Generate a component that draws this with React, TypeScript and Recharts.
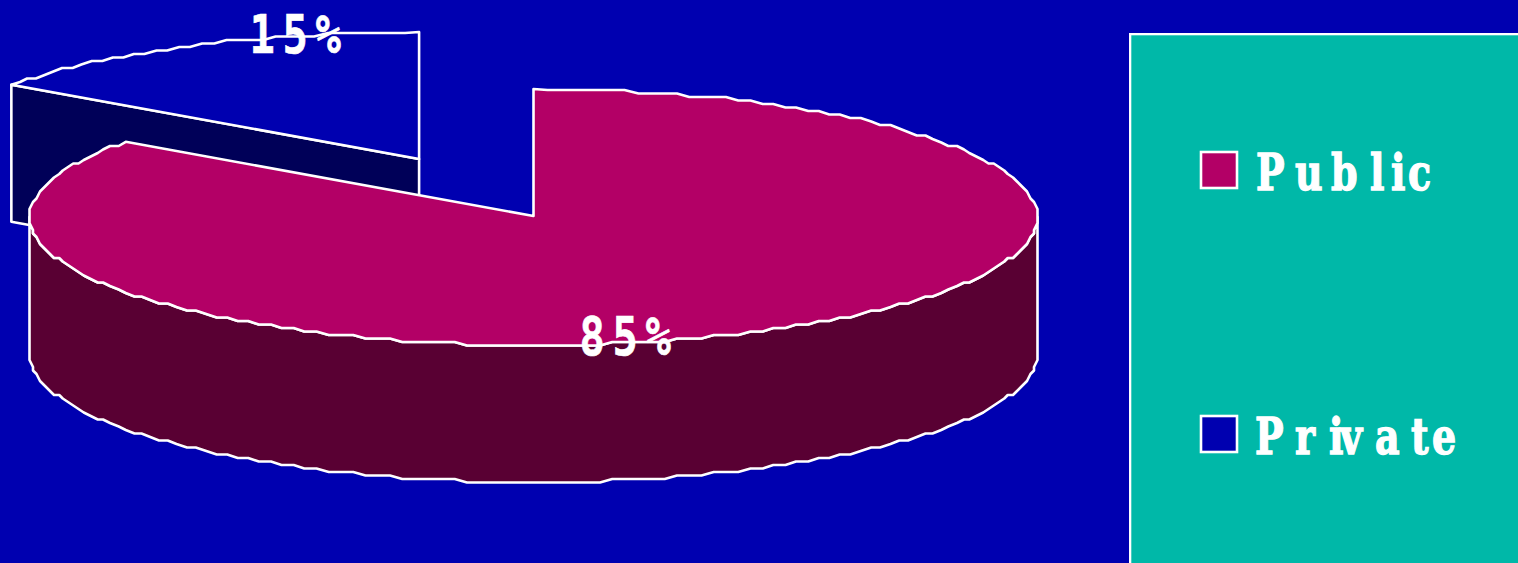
import React from 'react';
import { PieChart, Pie, Legend } from 'recharts';

// slices, back one first so the front one paints over it
const categories = ['Private', 'Public'];
const shares = [15, 85];
const topColors = ['#0000B0', '#B30066'];
const sideColors = ['#000058', '#590033'];
const explode = [0.5, 0];

const WIDTH = 1518;
const HEIGHT = 563;
const BACKGROUND = '#0000B0';
const PANEL = '#00B8A8';
const RADIUS = 504;
const SQUASH = 128 / 504; // tilt of the disc
const DEPTH = 137;
const RIM_DROP = 1;
const GRID_X = 1.75;
const GRID_Y = 3.5; // outline is stepped, like an old raster export
const STROKE = 2.6;

// where the percent labels sit, relative to the pie centre
const labelOffsets = [
  { x: -284, y: -163 },
  { x: 46, y: 139 },
];
const percentAdvance = 33;

// letter positions in the legend
const legendRows = [
  { name: 'Public', y: 190, swatchY: 152, xs: [1256, 1295, 1331, 1370, 1391, 1408] },
  { name: 'Private', y: 454, swatchY: 416, xs: [1255, 1295, 1329, 1340, 1375, 1411, 1432] },
];

const snap = (v: number, origin: number, grid: number) => Math.round((v - origin) / grid) * grid + origin;

// stepped points along the tilted rim, angles in degrees
const rim = (cx: number, cy: number, from: number, to: number, drop = 0) => {
  const n = Math.max(2, Math.ceil(Math.abs(to - from) / 1.5));
  const pts: string[] = [];
  for (let i = 0; i <= n; i++) {
    const a = ((from + ((to - from) * i) / n) * Math.PI) / 180;
    const x = cx + RADIUS * Math.cos(a);
    const y = cy + RIM_DROP - RADIUS * SQUASH * Math.sin(a);
    const atEnd = i === 0 || i === n;
    pts.push(`${atEnd ? x : snap(x, cx, GRID_X)},${(atEnd ? y : snap(y, cy, GRID_Y)) + drop}`);
  }
  return pts;
};

const Slice3D = (props: any) => {
  const { cx, cy, startAngle, endAngle, midAngle, index } = props;
  const shift = explode[index] * RADIUS;
  const mid = (midAngle * Math.PI) / 180;
  const ox = cx + shift * Math.cos(mid);
  const oy = cy - shift * SQUASH * Math.sin(mid);
  const top = rim(ox, oy, startAngle, endAngle);
  const line = { stroke: '#FFFFFF', strokeWidth: STROKE, strokeLinejoin: 'round' as const };

  if (index === 0) {
    // exploded wedge: only its cut face shows, below the rim start
    const a = (startAngle * Math.PI) / 180;
    const ex = ox + RADIUS * Math.cos(a);
    const ey = oy + RIM_DROP - RADIUS * SQUASH * Math.sin(a);
    return (
      <g>
        <path
          d={`M${ex},${ey}L${ox},${oy}L${ox},${oy + DEPTH}L${ex},${ey + DEPTH}Z`}
          fill={sideColors[index]}
          {...line}
        />
        <path d={`M${ox},${oy}L${top.join('L')}Z`} fill={topColors[index]} {...line} />
      </g>
    );
  }

  // front wall runs from the right extreme round the bottom to the left extreme
  const upper = rim(ox, oy, 0, -180);
  const lower = rim(ox, oy, -180, 0, DEPTH);
  return (
    <g>
      <path d={`M${upper.join('L')}L${lower.join('L')}Z`} fill={sideColors[index]} {...line} />
      <path d={`M${ox},${oy}L${top.join('L')}Z`} fill={topColors[index]} {...line} />
    </g>
  );
};

const renderPercent = (props: any) => {
  const { cx, cy, index, value } = props;
  const off = labelOffsets[index];
  const xs = [0, 1, 2].map((i) => (i * percentAdvance) / 0.78).join(' ');
  return (
    <g transform={`translate(${cx + off.x},${cy + off.y}) scale(0.78,1)`}>
      <text
        x={xs}
        y={0}
        fill="#FFFFFF"
        stroke="#FFFFFF"
        strokeWidth={0.6}
        fontFamily="'DejaVu Sans Mono'"
        fontWeight="bold"
        fontSize={54}
      >
        {`${value}%`}
      </text>
    </g>
  );
};

const LEGEND_SCALE = 0.76;

const renderLegend = () => (
  <svg width={389} height={530} style={{ display: 'block' }}>
    <rect x={1} y={1} width={400} height={540} fill={PANEL} stroke="#FFFFFF" strokeWidth={STROKE} />
    {legendRows.map((row) => {
      const i = categories.indexOf(row.name);
      return (
        <g key={row.name} transform="translate(-1129,-33)">
          <rect
            x={1201}
            y={row.swatchY}
            width={36}
            height={36}
            fill={topColors[i]}
            stroke="#FFFFFF"
            strokeWidth={STROKE}
          />
          <g transform={`scale(${LEGEND_SCALE},1)`}>
            <text
              x={row.xs.map((x) => x / LEGEND_SCALE).join(' ')}
              y={row.y}
              fill="#FFFFFF"
              stroke="#FFFFFF"
              strokeWidth={1.4}
              fontFamily="'DejaVu Serif'"
              fontWeight="bold"
              fontSize={50}
            >
              {row.name}
            </text>
          </g>
        </g>
      );
    })}
  </svg>
);

const chartData = categories.map((name, i) => ({ name, value: shares[i], fill: topColors[i] }));

export default function App() {
  return (
    <div style={{ position: 'absolute', left: 0, top: 0, width: WIDTH, height: HEIGHT, background: BACKGROUND, overflow: 'hidden' }}>
      <PieChart width={WIDTH} height={HEIGHT} margin={{ top: 0, right: 0, bottom: 0, left: 0 }}>
        <Legend
          layout="vertical"
          align="right"
          verticalAlign="top"
          content={renderLegend}
          wrapperStyle={{ left: 1129, top: 33, width: 389, height: 530, margin: 0 }}
        />
        <Pie
          data={chartData}
          dataKey="value"
          nameKey="name"
          cx={533.5}
          cy={216}
          outerRadius={RADIUS}
          startAngle={144}
          endAngle={-216}
          stroke="none"
          shape={Slice3D}
          label={renderPercent}
          labelLine={false}
          isAnimationActive={false}
        />
      </PieChart>
    </div>
  );
}
